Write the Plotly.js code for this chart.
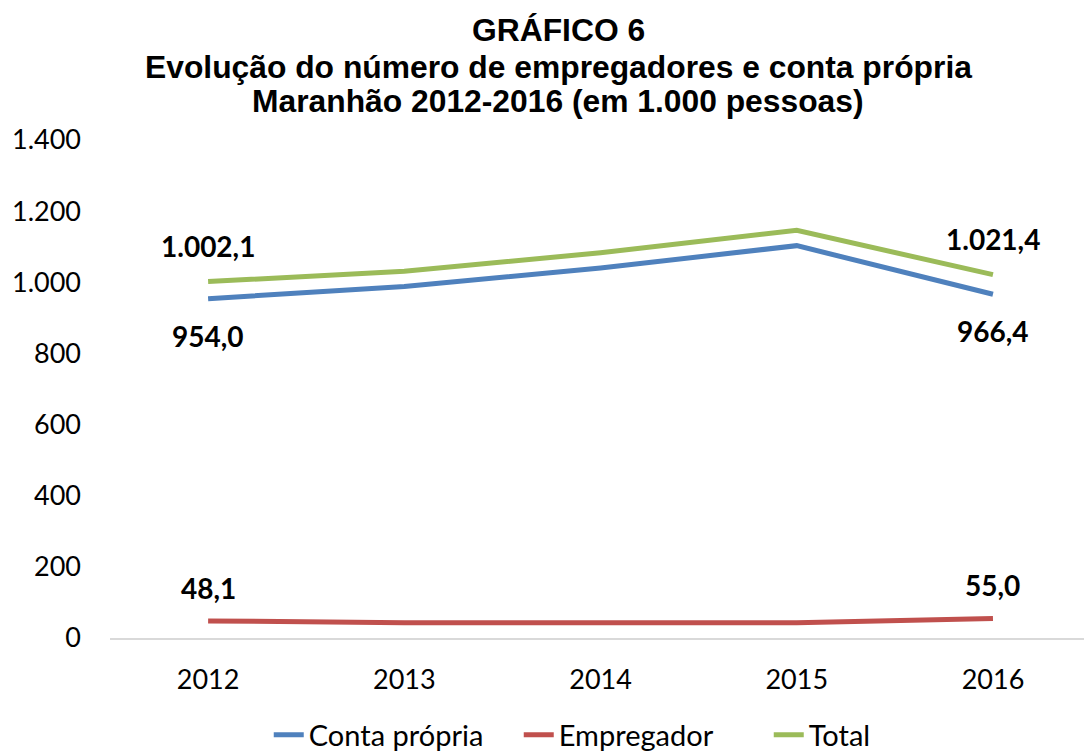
<!DOCTYPE html>
<html><head><meta charset="utf-8">
<script src="https://cdn.plot.ly/plotly-3.0.1.min.js"></script>
<style>html,body{margin:0;padding:0;background:#fff}#chart{width:1084px;height:752px}</style>
</head><body><div id="chart"></div>
<script>
const years = ['2012','2013','2014','2015','2016'];
const contaPropria = [954.0, 988, 1040, 1103, 966.4];
const empregador = [48.1, 43, 43, 43, 55.0];
const total = [1002.1, 1031, 1083, 1146, 1021.4];
const yTicks = [0,200,400,600,800,1000,1200,1400];
const yTickText = ['0','200','400','600','800','1.000','1.200','1.400'];
const titleLines = ['GRÁFICO 6','Evolução do número de empregadores e conta própria','Maranhão 2012-2016 (em 1.000 pessoas)'];

function fmt(v){
  const s = v.toFixed(1).split('.');
  const int = s[0].replace(/\B(?=(\d{3})+(?!\d))/g,'.');
  return int + ',' + s[1];
}

const series = [
  {name:'Conta própria', y:contaPropria, color:'#4F81BD', shift:-37},
  {name:'Empregador', y:empregador, color:'#C0504D', shift:33},
  {name:'Total', y:total, color:'#9BBB59', shift:36}
];

const traces = series.map(s => ({
  type:'scatter', mode:'lines', name:s.name, x:years, y:s.y,
  line:{color:s.color, width:5}
}));

const annotations = [];
series.forEach(s => {
  [0, years.length-1].forEach(i => {
    annotations.push({x:i, y:s.y[i], xref:'x', yref:'y', text:'<b>'+fmt(s.y[i])+'</b>',
      showarrow:false, yshift:s.shift, xanchor:'center', yanchor:'middle',
      font:{family:'Lato, sans-serif', size:28, color:'#000'}});
  });
});
const titleY = [1.2209, 1.1466, 1.0783];
titleLines.forEach((t, i) => {
  annotations.push({xref:'paper', yref:'paper', x:0.46, y:titleY[i], text:'<b>'+t+'</b>',
    showarrow:false, xanchor:'center', yanchor:'middle',
    font:{family:'Liberation Sans, Arial, sans-serif', size:31.8, color:'#000'}});
});

const layout = {
  width:1084, height:752,
  margin:{l:110, r:0, t:140, b:114, autoexpand:false},
  paper_bgcolor:'#fff', plot_bgcolor:'#fff',
  xaxis:{type:'category', range:[-0.5,4.464], showgrid:false, zeroline:false, automargin:false,
    showline:true, linecolor:'#d9d9d9', linewidth:1.5,
    ticks:'', tickfont:{family:'Lato, sans-serif', size:27, color:'#000'}, ticklabelstandoff:17},
  yaxis:{range:[0,1400], tickvals:yTicks, ticktext:yTickText, showgrid:false, zeroline:false, automargin:false,
    showline:false, ticks:'', tickfont:{family:'Lato, sans-serif', size:27, color:'#000'}, ticklabelstandoff:28},
  legend:{orientation:'h', x:0.548, xanchor:'center', y:-0.1948, yanchor:'middle',
    entrywidth:205, entrywidthmode:'pixels',
    font:{family:'Lato, sans-serif', size:29, color:'#000'}},
  annotations:annotations,
  showlegend:true
};

Plotly.newPlot('chart', traces, layout, {displayModeBar:false, staticPlot:true});
</script></body></html>
